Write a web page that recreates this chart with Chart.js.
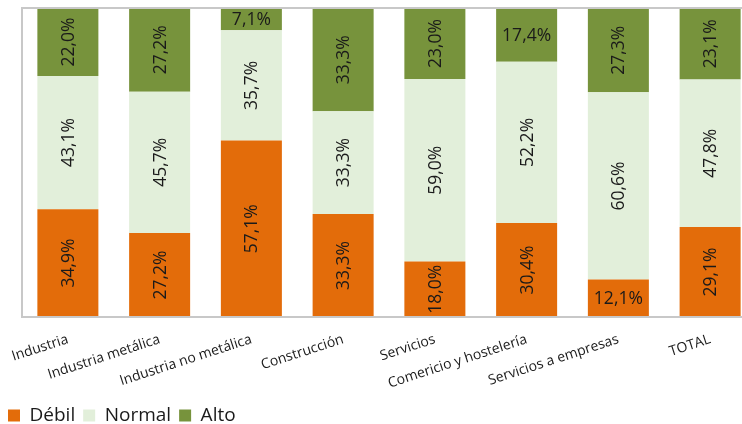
<!DOCTYPE html>
<html lang="es">
<head>
  <meta charset="UTF-8" />
  <title>Chart</title>
  <style>
    * { margin: 0; padding: 0; }
    body { width: 742px; height: 424px; overflow: hidden; background: #fff; }
    .chartBox { width: 758px; height: 435px; }
  </style>
</head>
<body>
  <div class="chartBox">
    <canvas id="myChart"></canvas>
  </div>
  <script src="https://cdn.jsdelivr.net/npm/chart.js@4.4.1/dist/chart.umd.min.js"></script>
  <script>
    const categories = [
      "Industria",
      "Industria metálica",
      "Industria no metálica",
      "Construcción",
      "Servicios",
      "Comericio y hostelería",
      "Servicios a empresas",
      "TOTAL",
    ];
    const debil = [34.9, 27.2, 57.1, 33.3, 18.0, 30.4, 12.1, 29.1];
    const normal = [43.1, 45.7, 35.7, 33.3, 59.0, 52.2, 60.6, 47.8];
    const alto = [22.0, 27.2, 7.1, 33.3, 23.0, 17.4, 27.3, 23.1];

    // labels drawn flat instead of rotated: [dataset, index]
    const flatLabels = [[2, 2], [2, 5], [0, 6]];

    const fontFamily = "'Open Sans', 'Noto Sans', sans-serif";

    const segmentLabels = {
      id: "segmentLabels",
      afterDatasetsDraw(chart) {
        const ctx = chart.ctx;
        const area = chart.chartArea;
        ctx.save();
        ctx.beginPath();
        ctx.rect(area.left, area.top, area.right - area.left, area.bottom - area.top);
        ctx.clip();
        ctx.fillStyle = "#1a1a1a";
        ctx.font = "17.5px " + fontFamily;
        ctx.textAlign = "center";
        ctx.textBaseline = "middle";
        chart.data.datasets.forEach((ds, di) => {
          const meta = chart.getDatasetMeta(di);
          meta.data.forEach((bar, i) => {
            const text = ds.data[i].toFixed(1).replace(".", ",") + "%";
            const cy = (bar.y + bar.base) / 2;
            const flat = flatLabels.some((p) => p[0] === di && p[1] === i);
            ctx.save();
            ctx.translate(bar.x, cy);
            if (!flat) ctx.rotate(-Math.PI / 2);
            ctx.fillText(text, 0, 1);
            ctx.restore();
          });
        });
        ctx.restore();
      },
    };

    const plotBorder = {
      id: "plotBorder",
      afterDraw(chart) {
        const ctx = chart.ctx;
        const a = chart.chartArea;
        ctx.save();
        ctx.strokeStyle = "#c8c8c8";
        ctx.lineWidth = 2;
        ctx.strokeRect(a.left, a.top, a.right - a.left, a.bottom - a.top);
        ctx.restore();
      },
    };

    const data = {
      labels: categories,
      datasets: [
        { label: "Débil", data: debil, backgroundColor: "#e36c0a" },
        { label: "Normal", data: normal, backgroundColor: "#e2efda" },
        { label: "Alto", data: alto, backgroundColor: "#77933c" },
      ],
    };

    const options = {
      responsive: true,
      maintainAspectRatio: false,
      animation: false,
      layout: { padding: { left: 0, top: 8, right: 2, bottom: 0 } },
      datasets: {
        bar: { barPercentage: 0.665, categoryPercentage: 1, borderWidth: 0 },
      },
      scales: {
        x: {
          stacked: true,
          grid: { display: false },
          border: { display: false },
          ticks: {
            color: "#1a1a1a",
            font: { family: fontFamily, size: 14 },
            maxRotation: 18,
            minRotation: 18,
            padding: 6,
          },
          afterFit(scale) {
            scale.height = 81;
          },
        },
        y: {
          stacked: true,
          min: 0,
          max: 100,
          grid: { display: false },
          border: { display: false },
          ticks: { display: false },
          afterFit(scale) {
            scale.width = 22;
          },
        },
      },
      plugins: {
        legend: {
          position: "bottom",
          align: "start",
          labels: {
            color: "#1a1a1a",
            font: { family: fontFamily, size: 19 },
            boxWidth: 12,
            boxHeight: 12,
            padding: 8,
          },
        },
        tooltip: { enabled: false },
      },
    };

    const ctx = document.getElementById("myChart").getContext("2d");
    const myChart = new Chart(ctx, {
      type: "bar",
      data: data,
      options: options,
      plugins: [segmentLabels, plotBorder],
    });
  </script>
</body>
</html>
